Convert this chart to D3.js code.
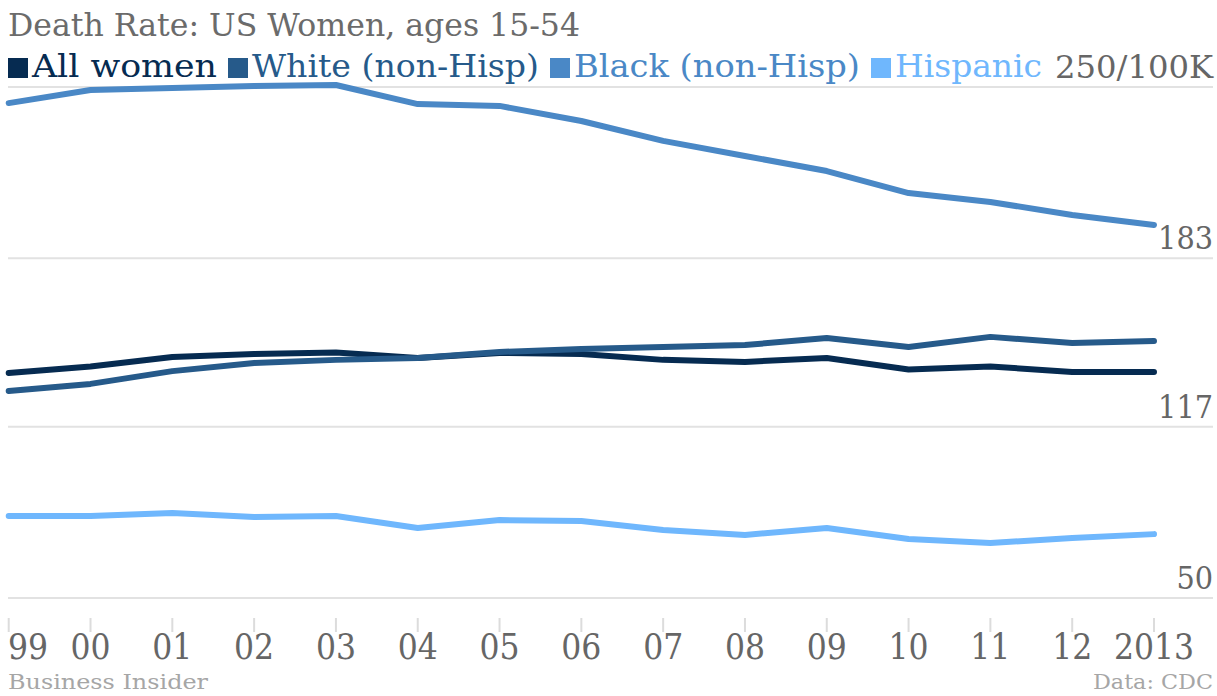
<!DOCTYPE html>
<html>
<head>
<meta charset="utf-8">
<script src="https://cdn.jsdelivr.net/npm/d3@7"></script>
<style>
  html, body { margin: 0; padding: 0; background: #fff; }
  svg { display: block; }
  text { font-family: "DejaVu Serif Condensed", "DejaVu Serif", serif; font-stretch: condensed; }
</style>
</head>
<body>
<svg id="chart" width="1217" height="696"></svg>
<script>
// Death rate per 100K, US women aged 15-54, 1999-2013
const years = ["99", "00", "01", "02", "03", "04", "05", "06", "07", "08", "09", "10", "11", "12", "2013"];
const allWomen = [138.1, 140.6, 144.3, 145.5, 146.1, 143.9, 145.9, 145.5, 143.2, 142.4, 143.9, 139.4, 140.6, 138.5, 138.5];
const whiteNH  = [131.0, 133.8, 138.8, 142.0, 143.2, 143.9, 146.3, 147.5, 148.2, 149.0, 151.8, 148.2, 152.2, 149.8, 150.6];
const blackNH  = [243.7, 248.8, 249.6, 250.4, 250.8, 243.3, 242.6, 236.7, 228.9, 223.0, 217.1, 208.5, 205.0, 199.9, 196.0];
const hispanic = [82.1, 82.1, 83.3, 81.7, 82.1, 77.4, 80.5, 80.1, 76.6, 74.7, 77.4, 73.1, 71.5, 73.5, 75.0];

const seriesNames  = ["All women", "White (non-Hisp)", "Black (non-Hisp)", "Hispanic"];
const seriesColors = ["#062b51", "#265a8a", "#4a88c6", "#6fb7fd"];
const yTicks = [50, 117, 183, 250];
const yTickLabels = ["50", "117", "183", "250/100K"];

const svg = d3.select("#chart");

const x = d3.scalePoint().domain(years).range([8.7, 1154]);
const y = d3.scaleLinear().domain([50, 250]).range([598, 87]);

// title
svg.append("text")
  .attr("x", 8).attr("y", 36)
  .attr("font-size", 31)
  .attr("fill", "#6b6b6b")
  .attr("textLength", 572).attr("lengthAdjust", "spacingAndGlyphs")
  .text("Death Rate: US Women, ages 15-54");

// horizontal gridlines
svg.append("g").selectAll("line").data(yTicks).join("line")
  .attr("x1", 8).attr("x2", 1213)
  .attr("y1", d => y(d)).attr("y2", d => y(d))
  .attr("stroke", "#e2e2e2").attr("stroke-width", 2);

// right-hand value labels sitting on the gridlines
svg.append("g").selectAll("text").data(yTicks).join("text")
  .attr("x", 1213).attr("y", d => y(d) - 9)
  .attr("text-anchor", "end")
  .attr("font-size", 32)
  .attr("fill", "#666")
  .attr("textLength", (d, i) => i === 3 ? 158 : null)
  .attr("lengthAdjust", "spacingAndGlyphs")
  .text((d, i) => yTickLabels[i]);

// legend row
const legendWidths = [185, 287, 286, 147];
let lx = 8;
const legend = svg.append("g");
seriesNames.forEach((name, i) => {
  legend.append("rect")
    .attr("x", lx).attr("y", 58).attr("width", 20).attr("height", 20)
    .attr("fill", seriesColors[i]);
  legend.append("text")
    .attr("x", lx + 24).attr("y", 77)
    .attr("font-size", 32)
    .attr("fill", seriesColors[i])
    .attr("textLength", legendWidths[i]).attr("lengthAdjust", "spacingAndGlyphs")
    .text(name);
  lx += 24 + legendWidths[i] + 11;
});

// x axis tick marks and labels
const xAxis = svg.append("g");
xAxis.selectAll("line").data(years).join("line")
  .attr("x1", d => x(d)).attr("x2", d => x(d))
  .attr("y1", 618).attr("y2", 632)
  .attr("stroke", "#dcdcdc").attr("stroke-width", 2);
xAxis.selectAll("text").data(years).join("text")
  .attr("x", (d, i) => i === 0 ? 8 : x(d))
  .attr("y", 659)
  .attr("text-anchor", (d, i) => i === 0 ? "start" : "middle")
  .attr("font-size", 35)
  .attr("fill", "#666")
  .text(d => d);

// series lines
const seriesData = [allWomen, whiteNH, blackNH, hispanic];
const line = d3.line().x((d, i) => x(years[i])).y(d => y(d));
svg.append("g").selectAll("path").data(seriesData).join("path")
  .attr("d", line)
  .attr("fill", "none")
  .attr("stroke", (d, i) => seriesColors[i])
  .attr("stroke-width", 6)
  .attr("stroke-linecap", "round")
  .attr("stroke-linejoin", "round");

// footer
svg.append("text")
  .attr("x", 8).attr("y", 689)
  .attr("font-size", 21).attr("fill", "#a6a6a6")
  .attr("textLength", 200).attr("lengthAdjust", "spacingAndGlyphs")
  .text("Business Insider");
svg.append("text")
  .attr("x", 1213).attr("y", 689)
  .attr("text-anchor", "end")
  .attr("font-size", 21).attr("fill", "#a6a6a6")
  .attr("textLength", 120).attr("lengthAdjust", "spacingAndGlyphs")
  .text("Data: CDC");
</script>
</body>
</html>
